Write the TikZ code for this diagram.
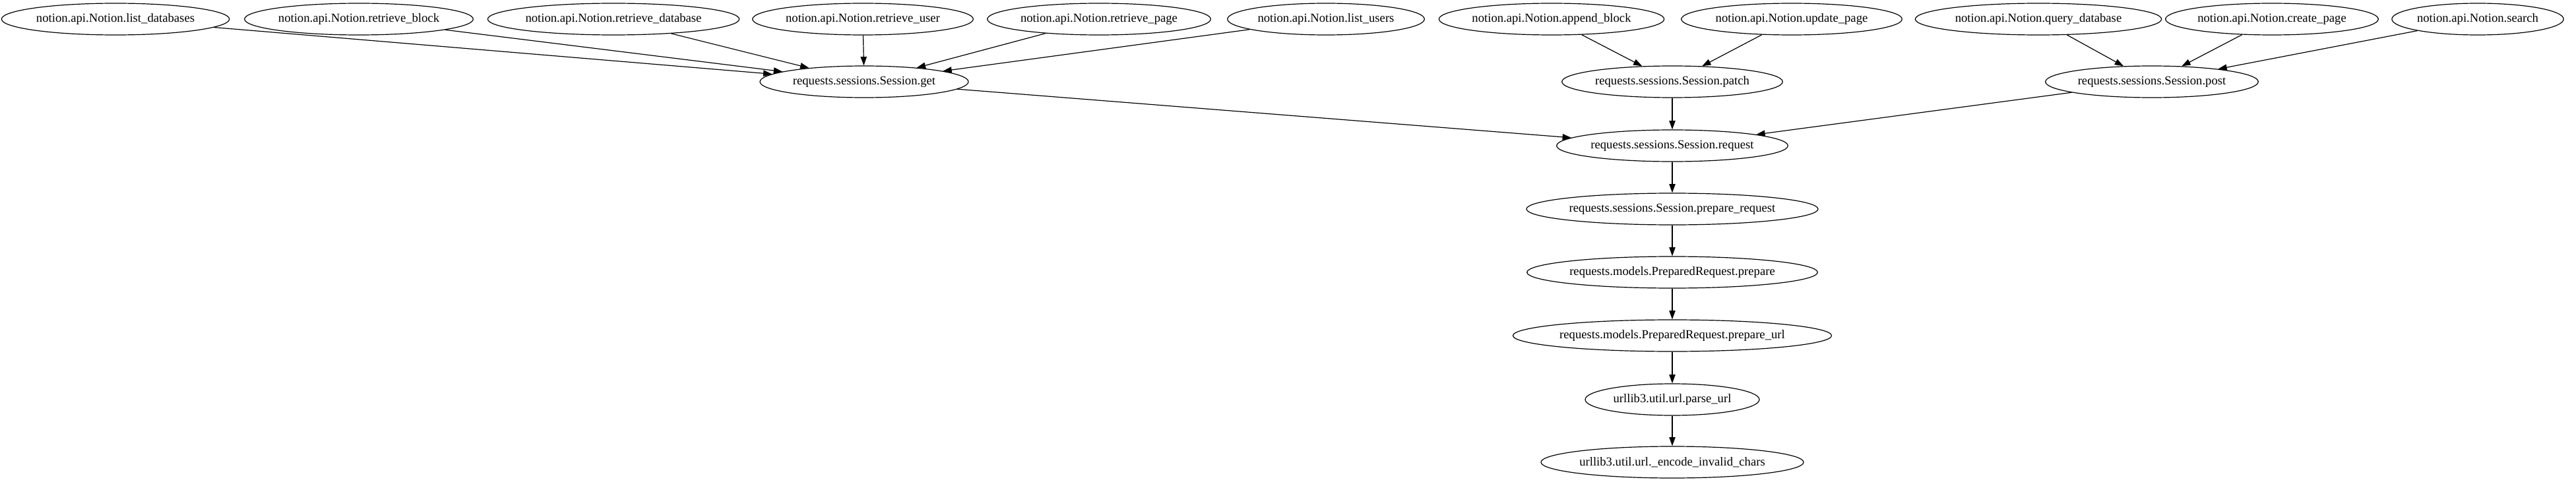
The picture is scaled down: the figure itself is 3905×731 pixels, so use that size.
\documentclass[tikz,border=0pt]{standalone}
\usepackage{fontspec}
\setmainfont{Liberation Serif}
\usetikzlibrary{arrows.meta,shapes.geometric}
\tikzset{
  callnode/.style={
    ellipse, draw=black, fill=white, line width=0.9pt,
    minimum height=36pt, minimum width=#1, inner sep=0pt,
    font=\fontsize{14}{16}\selectfont
  },
  calledge/.style={-{Triangle[length=10pt,width=7pt]},line width=0.9pt}
}
\begin{document}
\begin{tikzpicture}[x=0.75pt,y=-0.75pt]
  \useasboundingbox (0,0) rectangle (3905,731);
  % callers in notion.api
  \node[callnode=259pt] (ld) at (175,29) {notion.api.Notion.list\_databases};
  \node[callnode=260pt] (rb) at (544,29) {notion.api.Notion.retrieve\_block};
  \node[callnode=286pt] (rd) at (930,29) {notion.api.Notion.retrieve\_database};
  \node[callnode=251pt] (ru) at (1308,29) {notion.api.Notion.retrieve\_user};
  \node[callnode=254pt] (rp) at (1666,29) {notion.api.Notion.retrieve\_page};
  \node[callnode=224pt] (lu) at (2010,29) {notion.api.Notion.list\_users};
  \node[callnode=256pt] (ab) at (2352,29) {notion.api.Notion.append\_block};
  \node[callnode=251pt] (up) at (2716,29) {notion.api.Notion.update\_page};
  \node[callnode=280pt] (qd) at (3090,29) {notion.api.Notion.query\_database};
  \node[callnode=242pt] (cp) at (3444,29) {notion.api.Notion.create\_page};
  \node[callnode=194pt] (se) at (3756,29) {notion.api.Notion.search};
  % requests sessions
  \node[callnode=237pt] (sget) at (1310,124) {requests.sessions.Session.get};
  \node[callnode=251pt] (spatch) at (2535,124) {requests.sessions.Session.patch};
  \node[callnode=242pt] (spost) at (3262,124) {requests.sessions.Session.post};
  \node[callnode=263pt] (sreq) at (2535,221) {requests.sessions.Session.request};
  \node[callnode=327pt] (sprep) at (2535,317) {requests.sessions.Session.prepare\_request};
  \node[callnode=326pt] (pprep) at (2535,413) {requests.models.PreparedRequest.prepare};
  \node[callnode=356pt] (purl) at (2535,509) {requests.models.PreparedRequest.prepare\_url};
  \node[callnode=198pt] (parse) at (2535,606) {urllib3.util.url.parse\_url};
  \node[callnode=298pt] (enc) at (2535,701) {urllib3.util.url.\_encode\_invalid\_chars};
  % edges
  \foreach \src in {ld,rb,rd,ru,rp,lu}
    \draw[calledge] (\src) -- (sget);
  \foreach \src in {ab,up}
    \draw[calledge] (\src) -- (spatch);
  \foreach \src in {qd,cp,se}
    \draw[calledge] (\src) -- (spost);
  \foreach \src in {sget,spatch,spost}
    \draw[calledge] (\src) -- (sreq);
  \draw[calledge] (sreq) -- (sprep);
  \draw[calledge] (sprep) -- (pprep);
  \draw[calledge] (pprep) -- (purl);
  \draw[calledge] (purl) -- (parse);
  \draw[calledge] (parse) -- (enc);
\end{tikzpicture}
\end{document}
